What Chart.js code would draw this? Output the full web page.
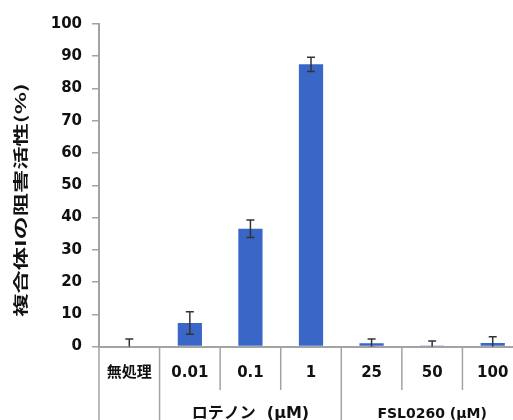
<!DOCTYPE html>
<html>
<head>
<meta charset="utf-8">
<script src="https://cdn.jsdelivr.net/npm/chart.js@4/dist/chart.umd.min.js"></script>
<style>
html,body{margin:0;padding:0;overflow:hidden;background:#fff;width:513px;height:420px;}
canvas{display:block;}
</style>
</head>
<body>
<canvas id="c" width="523" height="420" style="width:523px;height:420px"></canvas>
<script>
const categories = ["無処理", "0.01", "0.1", "1", "25", "50", "100"];
const values = [0, 7.3, 36.5, 87.5, 1.0, 0.3, 1.1];
const errors = [2.3, 3.5, 2.7, 2.2, 1.3, 1.4, 1.9];
const yTicks = [0, 10, 20, 30, 40, 50, 60, 70, 80, 90, 100];
const groupLabels = ["ロテノン  (μM)", "FSL0260 (μM)"];
const groupRanges = [[1, 3], [4, 6]];
const yTitle = "複合体Iの阻害活性(%)";

const axisGray = "#a3a3a3";

const decor = {
  id: "decor",
  afterDatasetsDraw(chart) {
    const ctx = chart.ctx;
    const ys = chart.scales.y;
    const meta = chart.getDatasetMeta(0);
    const area = chart.chartArea;
    ctx.save();
    ctx.beginPath();
    ctx.rect(area.left, area.top - 10, area.right - area.left, area.bottom - area.top + 10);
    ctx.clip();
    ctx.strokeStyle = "#333";
    ctx.lineWidth = 1.5;
    values.forEach((v, i) => {
      const x = meta.data[i].x;
      const yt = ys.getPixelForValue(v + errors[i]);
      const yb = ys.getPixelForValue(v - errors[i]);
      ctx.beginPath();
      ctx.moveTo(x, yt); ctx.lineTo(x, yb);
      ctx.moveTo(x - 4, yt); ctx.lineTo(x + 4, yt);
      ctx.moveTo(x - 4, yb); ctx.lineTo(x + 4, yb);
      ctx.stroke();
    });
    ctx.restore();
  },
  afterDraw(chart) {
    const ctx = chart.ctx;
    const xs = chart.scales.x;
    const base = chart.chartArea.bottom;
    const w = (xs.right - xs.left) / categories.length;
    ctx.save();
    ctx.strokeStyle = axisGray;
    ctx.lineWidth = 1.5;
    const longIdx = [0, 1, 4];
    for (let i = 0; i <= categories.length; i++) {
      const x = xs.left + i * w;
      ctx.beginPath();
      ctx.moveTo(x, base);
      ctx.lineTo(x, longIdx.includes(i) ? 420 : 390);
      ctx.stroke();
    }
    ctx.fillStyle = "#111";
    ctx.textAlign = "center";
    ctx.textBaseline = "middle";
    groupLabels.forEach((g, k) => {
      const [a, b] = groupRanges[k];
      const cx = (xs.getPixelForValue(a) + xs.getPixelForValue(b)) / 2;
      ctx.font = (k === 0 ? "bold 16px" : "bold 14px") + " 'DejaVu Sans', 'Noto Sans CJK JP'";
      ctx.fillText(g, cx, 414);
    });
    // y title, stretched along its direction
    ctx.translate(20.5, 200);
    ctx.rotate(-Math.PI / 2);
    ctx.scale(1.55, 1);
    ctx.font = "bold 15px 'Noto Sans CJK JP'";
    ctx.fillText(yTitle, 0, 0);
    ctx.restore();
  }
};

new Chart(document.getElementById("c"), {
  type: "bar",
  data: {
    labels: categories,
    datasets: [{
      data: values,
      backgroundColor: "#3a66c8",
      borderWidth: 0,
      barPercentage: 0.4,
      categoryPercentage: 1.0
    }]
  },
  options: {
    responsive: false,
    animation: false,
    layout: { padding: { top: 24, left: 0, right: 0, bottom: 0 } },
    plugins: { legend: { display: false }, tooltip: { enabled: false } },
    scales: {
      x: {
        grid: { display: false, drawTicks: false },
        border: { color: axisGray, width: 2 },
        ticks: {
          color: "#111",
          padding: 18,
          maxRotation: 0,
          autoSkip: false,
          font: { family: "'DejaVu Sans', 'Noto Sans CJK JP'", size: 15, weight: "bold" }
        },
        afterFit(s) { s.height = 73.5; s.paddingLeft = 0; s.paddingRight = 0; }
      },
      y: {
        min: 0, max: 100,
        afterBuildTicks(s) { s.ticks = yTicks.map(v => ({ value: v })); },
        grid: { drawOnChartArea: false, drawTicks: true, tickLength: 7, color: axisGray, lineWidth: 1.5 },
        border: { color: axisGray, width: 2 },
        ticks: {
          color: "#111",
          padding: 10,
          font: { family: "'DejaVu Sans'", size: 15, weight: "bold" }
        },
        afterFit(s) { s.width = 99; }
      }
    }
  },
  plugins: [decor]
});
</script>
</body>
</html>
